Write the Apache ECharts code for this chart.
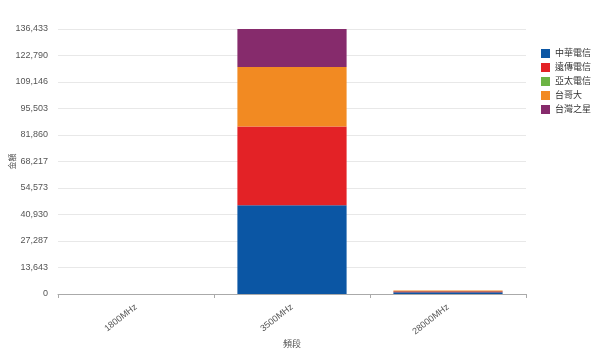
<!DOCTYPE html>
<html>
<head>
<meta charset="utf-8">
<script src="https://cdn.jsdelivr.net/npm/echarts@6/dist/echarts.min.js"></script>
<style>
  html, body { margin: 0; padding: 0; background: #fff; }
  #chart { width: 600px; height: 354px; }
</style>
</head>
<body>
<div id="chart"></div>
<script>
const bands = ["1800MHz", "3500MHz", "28000MHz"];
const operators = ["中華電信", "遠傳電信", "亞太電信", "台哥大", "台灣之星"];
const colors = ["#0b56a4", "#e32226", "#6cb344", "#f28a22", "#862b6c"];

// 金額 per band, one array per operator
const chtValues = [0, 45650, 900];
const fetValues = [0, 40600, 500];
const aptValues = [0, 0, 150];
const twmValues = [0, 30560, 300];
const tstarValues = [0, 19623, 0];

const yMax = 136433;
const yStep = yMax / 10;

const seriesValues = [chtValues, fetValues, aptValues, twmValues, tstarValues];

const chart = echarts.init(document.getElementById("chart"));
const font = "'Liberation Sans', 'Noto Sans CJK TC', sans-serif";

const option = {
  animation: false,
  textStyle: { fontFamily: font },
  grid: { left: 58, right: 74, top: 29, bottom: 60, outerBoundsMode: "none" },
  legend: {
    orient: "vertical",
    right: 4,
    top: 44,
    itemWidth: 9,
    itemHeight: 9,
    itemGap: 5,
    icon: "rect",
    textStyle: { fontSize: 9, color: "#333", fontFamily: font },
    data: operators,
  },
  xAxis: {
    type: "category",
    data: bands,
    name: "頻段",
    nameLocation: "middle",
    nameGap: 46,
    nameMoveOverlap: false,
    nameTextStyle: { fontSize: 9, color: "#555" },
    axisLine: { lineStyle: { color: "#aaa" } },
    axisTick: { show: true, length: 4, lineStyle: { color: "#aaa" } },
    axisLabel: { rotate: 38, fontSize: 9, color: "#555", margin: 12 },
  },
  yAxis: {
    type: "value",
    min: 0,
    max: yMax,
    interval: yStep,
    name: "金額",
    nameLocation: "middle",
    nameRotate: 90,
    nameGap: 41,
    nameMoveOverlap: false,
    nameTextStyle: { fontSize: 8, color: "#555" },
    axisLine: { show: false },
    axisTick: { show: false },
    splitLine: { lineStyle: { color: "#e8e8e8" } },
    axisLabel: {
      fontSize: 9,
      color: "#555",
      margin: 10,
      formatter: (v) => Math.round(v).toLocaleString("en-US"),
    },
  },
  series: operators.map((name, i) => ({
    name: name,
    type: "bar",
    stack: "total",
    barWidth: "70%",
    itemStyle: { color: colors[i] },
    data: seriesValues[i],
  })),
};

chart.setOption(option);
</script>
</body>
</html>
